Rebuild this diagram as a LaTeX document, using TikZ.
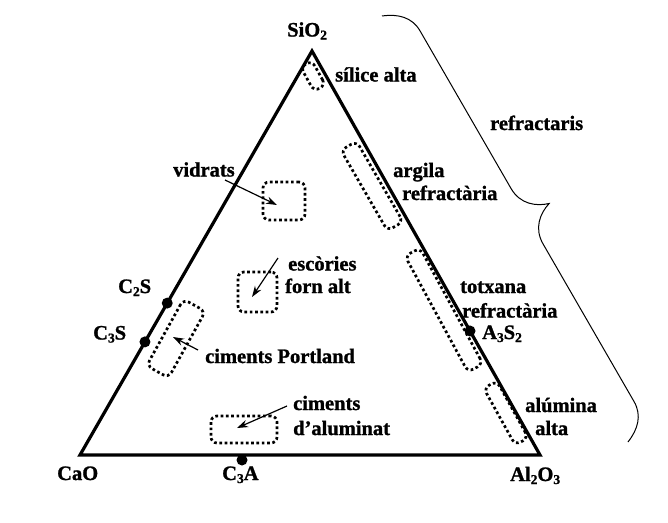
\documentclass[tikz,border=0pt]{standalone}
\usepackage{fontspec}
\setmainfont{Liberation Serif}[BoldFeatures={FakeBold=1.2}]
\usetikzlibrary{arrows.meta,calc}
\newcommand{\subs}[1]{\raisebox{-3pt}{\fontsize{13.5}{13.5}\selectfont #1}}
\begin{document}
\begin{tikzpicture}[x=1pt,y=-1pt,
  lbl/.style={anchor=base west,inner sep=0pt,font=\bfseries\fontsize{20.5}{22.5}\selectfont},
  edge/.style={line width=3.2pt,line join=miter},
  dotbox/.style={draw,rectangle,rounded corners=6pt,line width=2.7pt,dash pattern=on 2.7pt off 2.6pt,inner sep=0pt},
  ptr/.style={line width=1.2pt,-{Stealth[length=11pt,width=7.5pt]}},
  dotc/.style={circle,fill,inner sep=0pt,minimum size=11pt},
  brc/.style={line width=1pt}
]
\path[use as bounding box] (0,0) rectangle (668,522);

% vertices
\coordinate (si) at (312,51);
\coordinate (cao) at (80,455);
\coordinate (al) at (540,455);
\draw[edge] (cao) -- (al) -- (si) -- cycle;

% points on edges
\node[dotc] (c2s) at ($(cao)!0.376!(si)$) {};
\node[dotc] (c3s) at ($(cao)!0.28!(si)$) {};
\node[dotc] (c3a) at (242,460) {};
\node[dotc] (a3s2) at ($(al)!0.307!(si)$) {};

% dotted regions
\node[dotbox,rotate=-61,minimum width=28pt,minimum height=13pt] (bsil) at (313,76) {};
\node[dotbox,rotate=-60,minimum width=93pt,minimum height=18pt] (barg) at (372,186) {};
\node[dotbox,rotate=-61.5,minimum width=132pt,minimum height=17pt] (btot) at (444,310) {};
\node[dotbox,rotate=-61,minimum width=65pt,minimum height=15pt] (balu) at (506,413) {};
\node[dotbox,rotate=61,minimum width=76pt,minimum height=25pt] (bpor) at (176,338.5) {};
\node[dotbox,minimum width=42pt,minimum height=38pt] (bvid) at (284,201) {};
\node[dotbox,minimum width=39pt,minimum height=40pt] (besc) at (257.5,292) {};
\node[dotbox,minimum width=66pt,minimum height=27pt] (balm) at (244,429.5) {};

% labels
\node[lbl] (lsi) at (287,36.5) {SiO\subs{2}};
\node[lbl] (lcao) at (57,480) {CaO};
\node[lbl] (lal) at (510,481) {Al\subs{2}O\subs{3}};
\node[lbl] (lc3a) at (222,480) {C\subs{3}A};
\node[lbl] (lc2s) at (118,293) {C\subs{2}S};
\node[lbl] (lc3s) at (93,339.5) {C\subs{3}S};
\node[lbl] (la3s2) at (482,339) {A\subs{3}S\subs{2}};
\node[lbl] (lsil) at (335,81.5) {sílice alta};
\node[lbl] (lref) at (490,130) {refractaris};
\node[lbl] (lvid) at (173,176.5) {vidrats};
\node[lbl] (lesc1) at (288,270.5) {escòries};
\node[lbl] (lesc2) at (285,293) {forn alt};
\node[lbl] (lpor) at (205,363) {ciments Portland};
\node[lbl] (lalm1) at (293,410) {ciments};
\node[lbl] (lalm2) at (293,435) {d’aluminat};
\node[lbl] (larg1) at (393,177) {argila};
\node[lbl] (larg2) at (402,200) {refractària};
\node[lbl] (ltot1) at (460,293) {totxana};
\node[lbl] (ltot2) at (462,317.5) {refractària};
\node[lbl] (lalu1) at (525,412) {alúmina};
\node[lbl] (lalu2) at (535,435) {alta};

% pointers
\coordinate (pv1) at (225,180); \coordinate (pv2) at (277,205);
\coordinate (pe1) at (278,258); \coordinate (pe2) at (252,297);
\coordinate (pp1) at (198,350); \coordinate (pp2) at (173,337);
\coordinate (pa1) at (287,406); \coordinate (pa2) at (237,428);
\draw[ptr] (pv1) -- (pv2);
\draw[ptr] (pe1) -- (pe2);
\draw[ptr] (pp1) -- (pp2);
\draw[ptr] (pa1) -- (pa2);

% brace
\begin{scope}[shift={(382,16)},rotate=-60,y=1pt]
\def\L{491.9}
\draw[brc] (0,0) .. controls (6,15) and (16,25.5) .. (32,25.5)
  -- ({\L/2-32},25.5) .. controls ({\L/2-14},25.5) and ({\L/2-4},38) .. ({\L/2},51)
  .. controls ({\L/2+4},38) and ({\L/2+14},25.5) .. ({\L/2+32},25.5)
  -- ({\L-32},25.5) .. controls ({\L-16},25.5) and ({\L-6},15) .. (\L,0);
\end{scope}
\end{tikzpicture}
\end{document}
